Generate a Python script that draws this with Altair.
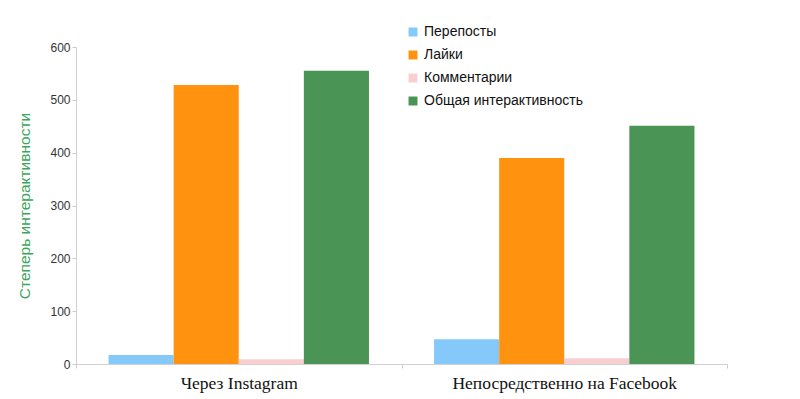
import altair as alt
import pandas as pd

groups = ["Через Instagram", "Непосредственно на Facebook"]
series = ["Перепосты", "Лайки", "Комментарии", "Общая интерактивность"]
instagram = [17, 528, 9, 555]
facebook = [47, 390, 11, 451]
colors = ["#85C8FA", "#FF930F", "#F9CED0", "#4A9455"]

rows = []
for g, vals in zip(groups, [instagram, facebook]):
    for s, v in zip(series, vals):
        rows.append({"group": g, "series": s, "value": v})
df = pd.DataFrame(rows)

chart = alt.Chart(df).mark_bar().encode(
    x=alt.X("group:N", sort=groups, title=None,
            scale=alt.Scale(paddingInner=0, paddingOuter=0),
            axis=alt.Axis(labelAngle=0, labelFont="Liberation Serif", labelFontSize=17.5,
                          labelColor="#111", labelPadding=6, labelLimit=400,
                          ticks=True, tickBand="extent", tickSize=4, tickColor="#cccccc",
                          domainColor="#d0d0d0")),
    xOffset=alt.XOffset("series:N", sort=series,
                        scale=alt.Scale(paddingInner=0, paddingOuter=0.5)),
    y=alt.Y("value:Q", title="Степерь интерактивности",
            scale=alt.Scale(domain=[0, 600]),
            axis=alt.Axis(values=[0, 100, 200, 300, 400, 500, 600], grid=False,
                          labelFont="Arial", labelFontSize=12, labelColor="#333",
                          tickColor="#cccccc", tickSize=4, domainColor="#d0d0d0",
                          titleColor="#3BA55C", titleFont="Arial", titleFontSize=15.5,
                          titleFontWeight="normal", titlePadding=17)),
    color=alt.Color("series:N", sort=series,
                    scale=alt.Scale(domain=series, range=colors),
                    legend=alt.Legend(title=None, orient="none", legendX=330, legendY=-22,
                                      symbolType="square", symbolSize=80,
                                      labelFont="Arial", labelFontSize=14, labelColor="#111",
                                      rowPadding=9, symbolStrokeWidth=0)),
).properties(
    width=651, height=317,
    padding={"left": 68, "top": 39, "right": 20, "bottom": 30},
    autosize=alt.AutoSizeParams(type="none"),
).configure_view(stroke=None)

chart.save("out.html", embed_options={"renderer": "svg", "actions": False})
